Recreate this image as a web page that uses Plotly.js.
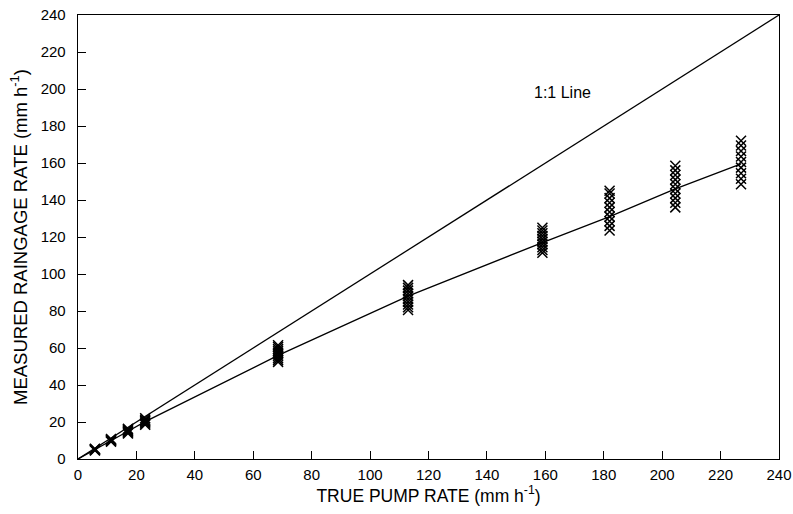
<!DOCTYPE html>
<html>
<head>
<meta charset="utf-8">
<script src="https://cdn.plot.ly/plotly-3.0.1.min.js"></script>
<style>html,body{margin:0;padding:0;background:#fff;}#chart{width:793px;height:514px;}</style>
</head>
<body>
<div id="chart"></div>
<script>
// True pump rate of each test cluster (mm h-1)
const pumpRates = [5.8, 11.3, 17.1, 23, 68.5, 113, 159, 182, 204.5, 227];
// Measured raingage rates for each cluster (mm h-1)
const measured = [
  [4.6, 4.9, 5.1, 5.3, 5.5],
  [9.4, 9.8, 10.1, 10.4, 10.8],
  [13.8, 14.3, 14.8, 15.3, 15.8, 16.3],
  [18.5, 19.2, 19.8, 20.5, 21.2, 22],
  [52.5, 53.5, 54.5, 55.5, 56.5, 57.5, 58.5, 59.5, 60.5, 61.5],
  [80.5, 82, 83.5, 85, 86.5, 88, 89.5, 91, 92.5, 94],
  [111.5, 113, 114.5, 116, 117.5, 119, 120.5, 122, 123.5, 125],
  [123.5, 126, 128.5, 131, 133.5, 136, 138.5, 141, 143.5, 145],
  [136, 138.5, 141, 143.5, 146, 148.5, 151, 153.5, 156, 158.5],
  [148.5, 151.5, 154.5, 157.5, 160.5, 163.5, 166.5, 169.5, 172]
];
// Fitted calibration curve (through origin and cluster means)
const fitX = [0, 5.8, 11.3, 17.1, 23, 68.5, 113, 159, 182, 204.5, 227];
const fitY = [0, 5, 9.6, 15, 20.2, 56, 88, 117, 131, 146, 159.5];
// 1:1 reference line
const oneX = [0, 240];
const oneY = [0, 240];
const xTicks = [0, 20, 40, 60, 80, 100, 120, 140, 160, 180, 200, 220, 240];
const yTicks = [0, 20, 40, 60, 80, 100, 120, 140, 160, 180, 200, 220, 240];

const px = [], py = [];
pumpRates.forEach((r, i) => measured[i].forEach(v => { px.push(r); py.push(v); }));

const traces = [
  {x: oneX, y: oneY, mode: 'lines', line: {color: '#000', width: 1.3}, hoverinfo: 'skip'},
  {x: fitX, y: fitY, mode: 'lines', line: {color: '#000', width: 1.3}, hoverinfo: 'skip'},
  {x: px, y: py, mode: 'markers', marker: {symbol: 'x-thin', size: 10, line: {color: '#000', width: 1.5}, color: '#000'}}
];

const fam = 'Liberation Sans, Arial, sans-serif';
const font = {family: fam, size: 15, color: '#000'};
const axisCommon = {
  range: [0, 240], ticks: 'inside', ticklen: 8, tickwidth: 1, tickcolor: '#000',
  showline: true, linecolor: '#000', linewidth: 1.3, mirror: true, showgrid: false, zeroline: false,
  tickfont: font
};
const layout = {
  width: 793, height: 514,
  margin: {l: 78, r: 14, t: 15, b: 55},
  paper_bgcolor: '#fff', plot_bgcolor: '#fff',
  showlegend: false,
  font: font,
  xaxis: Object.assign({}, axisCommon, {tickvals: xTicks, ticklabelstandoff: 2,
    title: {text: 'TRUE PUMP RATE (mm h<sup>-1</sup>)', font: {family: fam, size: 17.5, color: '#000'}, standoff: 6}}),
  yaxis: Object.assign({}, axisCommon, {tickvals: yTicks, ticklabelstandoff: 8,
    title: {text: 'MEASURED RAINGAGE RATE (mm h<sup>-1</sup>)', font: {family: fam, size: 18.5, color: '#000'}, standoff: 8}}),
  annotations: [{x: 166, y: 198, xref: 'x', yref: 'y', text: '1:1 Line', showarrow: false, font: {family: fam, size: 16, color: '#000'}}]
};
Plotly.newPlot('chart', traces, layout, {displayModeBar: false, staticPlot: true});
</script>
</body>
</html>
